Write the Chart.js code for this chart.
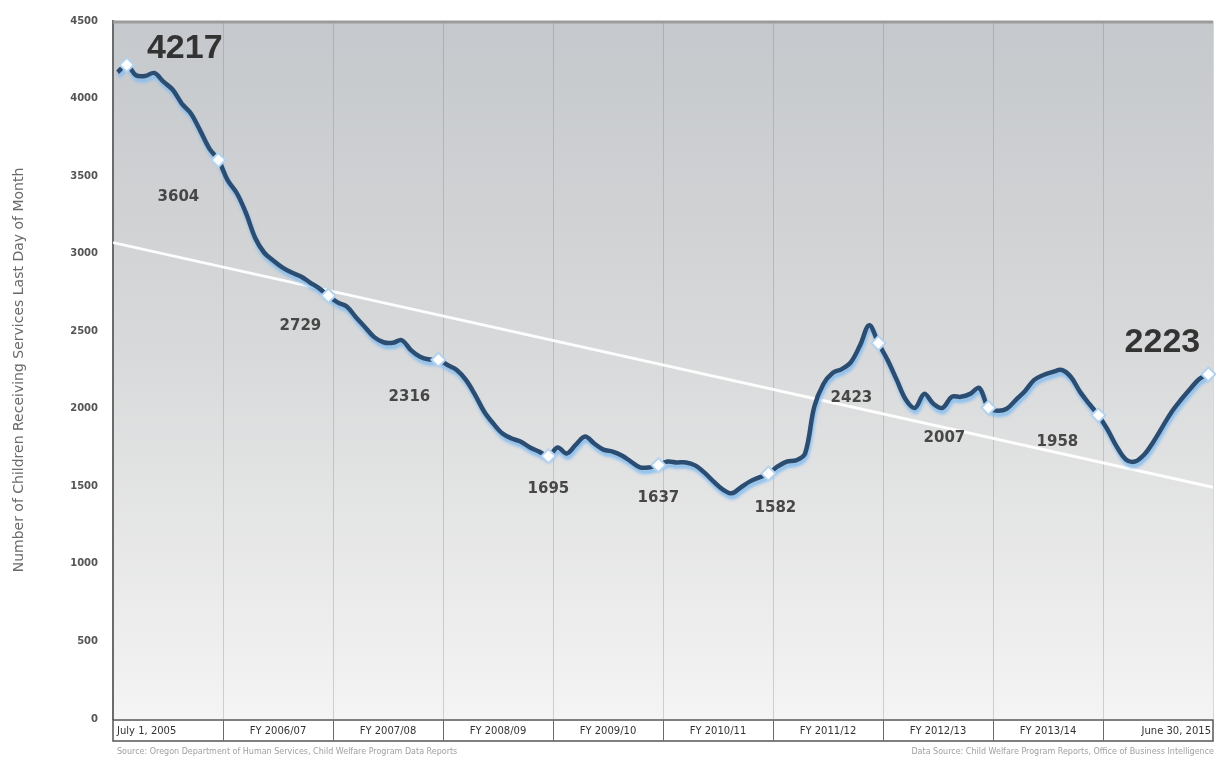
<!DOCTYPE html>
<html>
<head>
<meta charset="utf-8">
<script src="https://cdn.jsdelivr.net/npm/chart.js@4.4.1/dist/chart.umd.min.js"></script>
<style>
  html, body { margin: 0; padding: 0; background: #fff; }
  #wrap { width: 1216px; height: 757px; position: relative; }
</style>
</head>
<body>
<div id="wrap"><canvas id="c" width="1216" height="757"></canvas></div>
<script>
// Fiscal-year bands along the bottom (one band = 12 months, July to June)
const FISCAL_YEARS = ['July 1, 2005', 'FY 2006/07', 'FY 2007/08', 'FY 2008/09', 'FY 2009/10',
  'FY 2010/11', 'FY 2011/12', 'FY 2012/13', 'FY 2013/14', 'June 30, 2015'];

// Children receiving services on the last day of each month, July 2005 .. June 2015
const MONTHLY_COUNT = [
  4170, 4217, 4150, 4145, 4165, 4109, 4058, 3968, 3904, 3795, 3679, 3604,
  3474, 3391, 3263, 3103, 3006, 2955, 2910, 2878, 2853, 2814, 2776, 2729,
  2686, 2660, 2590, 2526, 2462, 2429, 2425, 2442, 2378, 2335, 2318, 2316,
  2282, 2250, 2186, 2090, 1981, 1904, 1840, 1808, 1788, 1750, 1724, 1695,
  1750, 1712, 1769, 1821, 1776, 1737, 1724, 1699, 1660, 1622, 1622, 1637,
  1660, 1654, 1654, 1635, 1590, 1532, 1481, 1455, 1494, 1532, 1558, 1582,
  1628, 1660, 1667, 1712, 2013, 2160, 2231, 2256, 2301, 2410, 2538, 2423,
  2314, 2186, 2058, 2006, 2096, 2032, 2006, 2077, 2077, 2096, 2135, 2007,
  1987, 2000, 2058, 2115, 2186, 2218, 2237, 2250, 2205, 2109, 2032, 1958,
  1865, 1756, 1673, 1660, 1705, 1788, 1885, 1981, 2058, 2128, 2192, 2223
];

// Month positions of the highlighted (labelled) counts
const MARKER_MONTHS = [1, 11, 23, 35, 47, 59, 71, 83, 95, 107, 119];

// Straight trend line: value at the left edge and at the right edge
const TREND_ENDS = [3071, 1494];

// Y axis ticks
const Y_TICKS = [0, 500, 1000, 1500, 2000, 2500, 3000, 3500, 4000, 4500];

const Y_TITLE = 'Number of Children Receiving Services Last Day of Month';
const FOOT_LEFT = 'Source: Oregon Department of Human Services, Child Welfare Program Data Reports';
const FOOT_RIGHT = 'Data Source: Child Welfare Program Reports, Office of Business Intelligence';

// Label placement around each marker (pixels) and size class
const LABEL_STYLE = [
  { dx: 58, dy: -16, big: true },
  { dx: -40, dy: 37 },
  { dx: -28, dy: 30 },
  { dx: -29, dy: 37 },
  { dx: 0, dy: 33 },
  { dx: 0, dy: 33 },
  { dx: 7, dy: 34 },
  { dx: -27, dy: 55 },
  { dx: -44, dy: 30 },
  { dx: -41, dy: 27 },
  { dx: -46, dy: -32, big: true }
];

const seriesPoints = MONTHLY_COUNT.map((v, i) => ({ x: i, y: v }));
const markerPoints = MARKER_MONTHS.map(m => ({ x: m, y: MONTHLY_COUNT[m] }));
const trendPoints = [{ x: -0.5, y: TREND_ENDS[0] }, { x: MONTHLY_COUNT.length - 0.5, y: TREND_ENDS[1] }];

// Panel background and frame
const backdrop = {
  id: 'backdrop',
  beforeDraw(chart) {
    const { ctx, chartArea: a } = chart;
    ctx.save();
    ctx.fillStyle = '#ffffff';
    ctx.fillRect(0, 0, chart.width, chart.height);
    const g = ctx.createLinearGradient(0, a.top, 0, a.bottom);
    g.addColorStop(0, '#c5c8cc');
    g.addColorStop(0.45, '#d7d8d9');
    g.addColorStop(1, '#f4f4f4');
    ctx.fillStyle = g;
    ctx.fillRect(a.left, a.top, a.right - a.left, a.bottom - a.top);
    ctx.restore();
  }
};

// Soft light-blue halo under the main line
const halo = {
  id: 'halo',
  beforeDatasetDraw(chart, args) {
    if (args.index !== 1) return;
    const ctx = chart.ctx;
    ctx.save();
    ctx.shadowColor = 'rgba(135,190,238,0.95)';
    ctx.shadowBlur = 3;
    ctx.shadowOffsetX = 1;
    ctx.shadowOffsetY = 4;
  },
  afterDatasetDraw(chart, args) {
    if (args.index !== 1) return;
    chart.ctx.restore();
  }
};

// Value labels next to the markers
const valueLabels = {
  id: 'valueLabels',
  afterDatasetsDraw(chart) {
    const { ctx } = chart;
    const meta = chart.getDatasetMeta(0);
    ctx.save();
    ctx.textAlign = 'center';
    ctx.textBaseline = 'middle';
    meta.data.forEach((pt, k) => {
      const st = LABEL_STYLE[k];
      const val = markerPoints[k].y;
      if (st.big) {
        ctx.font = 'bold 34px "Liberation Sans", Arial, sans-serif';
        ctx.fillStyle = '#333333';
      } else {
        ctx.font = 'bold 15px "DejaVu Sans", sans-serif';
        ctx.fillStyle = '#474747';
      }
      ctx.fillText(String(val), pt.x + st.dx, pt.y + st.dy);
    });
    ctx.restore();
  }
};

// Top frame line, fiscal-year label row and footer notes
const frame = {
  id: 'frame',
  afterDraw(chart) {
    const { ctx, chartArea: a } = chart;
    const fy = chart.scales.fy;
    const n = FISCAL_YEARS.length;
    const cell = (a.right - a.left) / n;
    ctx.save();
    // top edge
    ctx.strokeStyle = '#9c9c9c';
    ctx.lineWidth = 3;
    ctx.beginPath();
    ctx.moveTo(a.left, a.top + 1);
    ctx.lineTo(a.right, a.top + 1);
    ctx.stroke();
    // label row box
    const top = a.bottom + 1, bot = a.bottom + 22;
    ctx.fillStyle = '#ffffff';
    ctx.fillRect(a.left, top, a.right - a.left, bot - top);
    ctx.strokeStyle = '#555555';
    ctx.lineWidth = 1.5;
    ctx.strokeRect(a.left, top, a.right - a.left, bot - top);
    ctx.lineWidth = 1;
    ctx.strokeStyle = '#6a6a6a';
    for (let k = 1; k < n; k++) {
      const x = Math.round((fy.getPixelForValue(k - 1) + fy.getPixelForValue(k)) / 2) + 0.5;
      ctx.beginPath();
      ctx.moveTo(x, top);
      ctx.lineTo(x, bot);
      ctx.stroke();
    }
    ctx.font = '10px "DejaVu Sans", sans-serif';
    ctx.fillStyle = '#333333';
    ctx.textBaseline = 'middle';
    const ty = (top + bot) / 2 + 0.5;
    FISCAL_YEARS.forEach((lab, k) => {
      const cx = fy.getPixelForValue(k);
      if (k === 0) {
        ctx.textAlign = 'left';
        ctx.fillText(lab, cx - cell / 2 + 4, ty);
      } else if (k === n - 1) {
        ctx.textAlign = 'right';
        ctx.fillText(lab, cx + cell / 2 - 2, ty);
      } else {
        ctx.textAlign = 'center';
        ctx.fillText(lab, cx, ty);
      }
    });
    // footer notes
    ctx.font = '8px "DejaVu Sans", sans-serif';
    ctx.fillStyle = '#a0a0a0';
    ctx.textAlign = 'left';
    ctx.fillText(FOOT_LEFT, a.left + 4, chart.height - 5);
    ctx.textAlign = 'right';
    ctx.fillText(FOOT_RIGHT, chart.width - 2, chart.height - 5);
    ctx.restore();
  }
};

new Chart(document.getElementById('c'), {
  type: 'line',
  data: {
    datasets: [
      {
        label: 'markers',
        data: markerPoints,
        showLine: false,
        pointStyle: 'rectRot',
        pointRadius: 7,
        pointBackgroundColor: '#ffffff',
        pointBorderColor: '#b5d3ee',
        pointBorderWidth: 2,
        clip: false,
        order: 0
      },
      {
        label: 'children',
        data: seriesPoints,
        borderColor: '#2c4d72',
        borderWidth: 4.5,
        tension: 0.35,
        pointRadius: 0,
        fill: false,
        order: 1
      },
      {
        label: 'trend',
        data: trendPoints,
        borderColor: 'rgba(255,255,255,0.95)',
        borderWidth: 2.8,
        pointRadius: 0,
        fill: false,
        order: 2
      }
    ]
  },
  options: {
    responsive: false,
    animation: false,
    devicePixelRatio: 1,
    layout: { autoPadding: false, padding: { top: 17, right: 3, left: 0, bottom: 0 } },
    plugins: { legend: { display: false }, tooltip: { enabled: false } },
    scales: {
      x: {
        type: 'linear',
        min: -0.5,
        max: MONTHLY_COUNT.length - 0.5,
        display: false
      },
      fy: {
        type: 'category',
        labels: FISCAL_YEARS,
        position: 'bottom',
        offset: true,
        grid: { offset: true, color: 'rgba(110,110,110,0.28)', lineWidth: 1, drawTicks: false },
        border: { display: false },
        ticks: { display: false },
        afterFit(s) { s.height = 38; }
      },
      y: {
        min: 0,
        max: 4500,
        afterBuildTicks(s) { s.ticks = Y_TICKS.map(v => ({ value: v })); },
        ticks: {
          font: { family: 'DejaVu Sans', size: 10, weight: 'bold' },
          color: '#555555',
          padding: 15,
          callback: v => String(v)
        },
        grid: { display: false, drawTicks: false },
        border: { display: true, color: '#6b6b6b', width: 2 },
        title: {
          display: true,
          text: Y_TITLE,
          font: { family: 'DejaVu Sans', size: 14 },
          color: '#6a6a6a',
          padding: { top: 11, bottom: 0 }
        },
        afterFit(s) { s.width = 113; }
      }
    }
  },
  plugins: [backdrop, halo, valueLabels, frame]
});
</script>
</body>
</html>
